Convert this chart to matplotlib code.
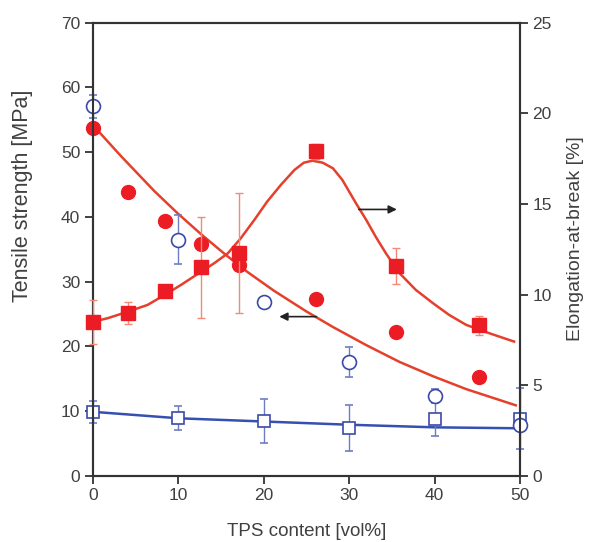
import matplotlib.pyplot as plt
import numpy as np

plt.rcParams['font.family'] = ['Liberation Sans', 'DejaVu Sans']

# --- measured points ---
x_red = [0, 4.1, 8.4, 12.7, 17.1, 26.1, 35.5, 45.2]
elong = [8.5, 9.0, 10.2, 11.5, 12.3, 17.9, 11.6, 8.3]          # right axis, squares
elong_err = [1.2, 0.6, 0.0, 2.8, 3.3, 0.4, 1.0, 0.5]
tensile_red = [53.7, 43.9, 39.4, 35.8, 32.6, 27.3, 22.3, 15.3]  # left axis, circles

x_blue = [0, 10, 20, 30, 40, 50]
tensile_blue = [57.1, 36.5, 26.9, 17.6, 12.3, 7.9]              # open circles
tensile_blue_err = [1.8, 3.8, 0.0, 2.3, 1.1, 0.0]
elong_blue = [9.9, 8.9, 8.5, 7.4, 8.8, 8.8]                      # open squares (left axis)
elong_blue_err = [1.7, 1.85, 3.4, 3.5, 2.7, 4.7]

# --- fitted curves ---
fit_ts_x = [0, 3.3, 7.2, 9.9, 12.7, 15.6, 18.1, 21.2, 25.0, 28.1, 32.0, 35.9, 39.8, 43.7, 49.5]
fit_ts_y = [54.2, 49.4, 44.0, 40.6, 37.3, 34.1, 31.5, 28.6, 25.4, 23.0, 20.2, 17.6, 15.4, 13.4, 10.9]

fit_el_x = [0, 1.75, 4.1, 6.4, 8.4, 10.3, 12.7, 14.2, 15.8, 17.3, 18.9, 20.4, 22.0, 23.6, 24.7,
            25.7, 26.9, 28.1, 29.2, 30.8, 32.0, 33.1, 34.3, 35.9, 37.8, 39.8, 41.7, 43.7, 46.4, 49.3]
fit_el_y = [8.5, 8.7, 9.06, 9.43, 9.98, 10.53, 11.27, 11.73, 12.28, 13.1, 14.12, 15.13, 16.05, 16.88, 17.28,
            17.39, 17.28, 16.97, 16.33, 15.04, 14.12, 13.2, 12.28, 11.18, 10.26, 9.53, 8.88, 8.33, 7.87, 7.41]

fit_blue_x = [0, 10, 20, 30, 40, 50]
fit_blue_y = [9.9, 8.9, 8.4, 7.9, 7.5, 7.35]

red = '#ec1c24'
red_line = '#e4402c'
red_err = '#f28a74'
blue = '#3b4aa8'
blue_line = '#3550b0'
blue_err = '#6f7cc2'
axis_col = '#333333'
txt_col = '#404040'

fig = plt.figure(figsize=(5.91, 5.42), dpi=100)
ax = fig.add_axes([0.157, 0.122, 0.723, 0.836])
ax2 = ax.twinx()

# left axis: tensile strength
ax.plot(fit_ts_x, fit_ts_y, color=red_line, lw=1.8, zorder=2, solid_joinstyle='round')
ax.plot(fit_blue_x, fit_blue_y, color=blue_line, lw=1.8, zorder=2)
eb = ax.errorbar(x_blue, elong_blue, yerr=elong_blue_err, fmt='s', ms=9, mfc='white', mec=blue,
                 mew=1.2, ecolor=blue_err, elinewidth=1, capsize=3, zorder=3)
eb2 = ax.errorbar(x_blue, tensile_blue, yerr=tensile_blue_err, fmt='o', ms=10, mfc='white', mec=blue,
                  mew=1.2, ecolor=blue_err, elinewidth=1, capsize=3, zorder=3)
ax.plot(x_red, tensile_red, 'o', ms=10, color=red, mec=red, zorder=4, clip_on=False)
ax.annotate('', xy=(21.5, 24.6), xytext=(26.5, 24.6),
            arrowprops=dict(arrowstyle='-|>', color='#222222', lw=1.2, mutation_scale=12))

# right axis: elongation
ax2.plot(fit_el_x, fit_el_y, color=red_line, lw=1.8, zorder=2, solid_joinstyle='round')
eb3 = ax2.errorbar(x_red, elong, yerr=elong_err, fmt='s', ms=9.5, color=red, mec=red,
                   ecolor=red_err, elinewidth=1, capsize=3, zorder=4)
ax2.annotate('', xy=(35.9, 14.7), xytext=(30.8, 14.7),
             arrowprops=dict(arrowstyle='-|>', color='#222222', lw=1.2, mutation_scale=12))

for container in (eb, eb2, eb3):
    for art in container.get_children():
        art.set_clip_on(False)

ax.set_xlim(0, 50)
ax.set_ylim(0, 70)
ax2.set_ylim(0, 25)
ax.set_xticks(np.arange(0, 51, 10))
ax.set_yticks(np.arange(0, 71, 10))
ax2.set_yticks(np.arange(0, 26, 5))

for a in (ax, ax2):
    for s in a.spines.values():
        s.set_color(axis_col)
        s.set_linewidth(1.5)
    a.tick_params(direction='out', length=6, width=1.3, color=axis_col,
                  labelsize=12.5, labelcolor=txt_col, pad=3)
ax.tick_params(top=False)

ax.set_xlabel('TPS content [vol%]', fontsize=13.5, color=txt_col, labelpad=14)
ax.set_ylabel('Tensile strength [MPa]', fontsize=15.5, color=txt_col)
ax2.set_ylabel('Elongation-at-break [%]', fontsize=14, color=txt_col)
ax.yaxis.set_label_coords(-0.14, 0.617)
ax2.yaxis.set_label_coords(1.11, 0.524)

fig.savefig('out.png', dpi=100)
